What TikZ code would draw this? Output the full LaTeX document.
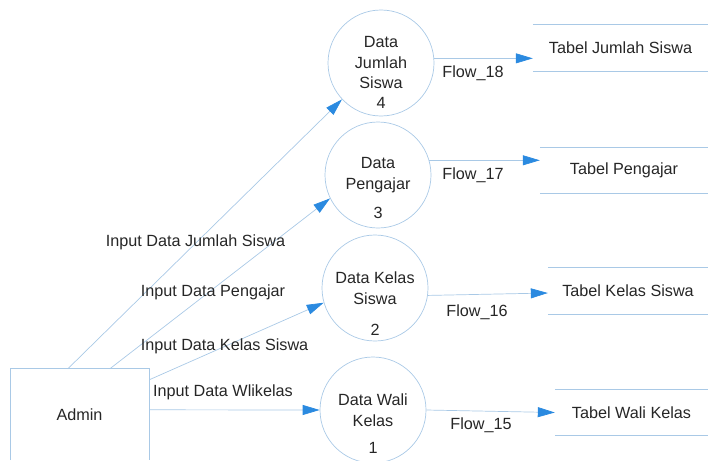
\documentclass[tikz,border=0pt]{standalone}
\usepackage{fontspec}
\setmainfont{Liberation Sans}
\usetikzlibrary{arrows.meta,calc}
\definecolor{linecol}{HTML}{A9C9E6}
\definecolor{tipcol}{HTML}{2B8AE0}
\definecolor{txtcol}{HTML}{262626}
\begin{document}
\begin{tikzpicture}[x=1pt,y=-1pt,
  every node/.style={font=\fontsize{16.2}{20.5}\selectfont, text=txtcol},
  process/.style={circle, draw=linecol, line width=0.7pt, minimum size=106pt, inner sep=0pt, align=center},
  store/.style={minimum width=#1, minimum height=46pt, inner sep=0pt},
  storeline/.style={draw=linecol, line width=0.7pt},
  flow/.style={draw=linecol, line width=0.7pt, -{Triangle[length=17pt,width=10pt,color=tipcol]}},
  lbl/.style={inner sep=1pt}]
\useasboundingbox (0,0) rectangle (708,460);

% external entity (bottom runs off the page)
\node (admin) [minimum width=138pt, minimum height=91pt, inner sep=0pt] at (80,414.5) {};
\node at (79.5,415) {Admin};
\draw[linecol, line width=0.7pt] (admin.south west) -- (admin.north west) -- (admin.north east) -- (admin.south east);

% processes
\node (c4) [process] at (381,63) {Data\\Jumlah\\Siswa};
\node (n4) at ($(c4.center)+(0,40)$) {4};
\node (c3) [process] at (378,175) {Data\\Pengajar};
\node (n3) at ($(c3.center)+(0,38)$) {3};
\node (c2) [process] at (375,288) {Data Kelas\\Siswa};
\node (n2) at ($(c2.center)+(0,42)$) {2};
\node (c1) [process] at (373,410) {Data Wali\\Kelas};
\node (n1) at ($(c1.center)+(0,38)$) {1};

% data stores: open rectangles, top and bottom lines only
\node (s4) [store=175pt] at (620.5,48) {Tabel Jumlah Siswa};
\node (s3) [store=168pt] at (624,170.5) {Tabel Pengajar};
\node (s2) [store=160pt] at (628,291) {Tabel Kelas Siswa};
\node (s1) [store=153pt] at (631.5,412.5) {Tabel Wali Kelas};
\foreach \s in {s1,s2,s3,s4}{
  \draw[storeline] (\s.north west) -- (\s.north east);
  \draw[storeline] (\s.south west) -- (\s.south east);
}

% flows from Admin into the processes
\draw[flow] ($(admin.north west)+(57,0)$) -- (c4.223);
\draw[flow] ($(admin.north west)+(99,0)$) -- (c3.206);
\draw[flow] ($(admin.north east)+(0,11)$) -- (c2.196);
\draw[flow] ($(admin.north east)+(0,41)$) -- (c1.180);

\node[lbl] at (195.5,242) {Input Data Jumlah Siswa};
\node[lbl] at (213,292) {Input Data Pengajar};
\node[lbl] at (224.5,346) {Input Data Kelas Siswa};
\node[lbl] at (223,392) {Input Data Wlikelas};

% flows from the processes into the stores
\draw[flow] (c4.5) -- (c4.5 -| s4.west);
\draw[flow] (c3.16) -- (c3.16 -| s3.west);
\draw[flow] (c2.-8) -- ($(s2.west)+(0,2)$);
\draw[flow] (c1.0) -- (s1.west);

\node[lbl] at (473,73) {Flow\_18};
\node[lbl] at (473,175) {Flow\_17};
\node[lbl] at (477,312) {Flow\_16};
\node[lbl] at (481,425) {Flow\_15};
\end{tikzpicture}
\end{document}
